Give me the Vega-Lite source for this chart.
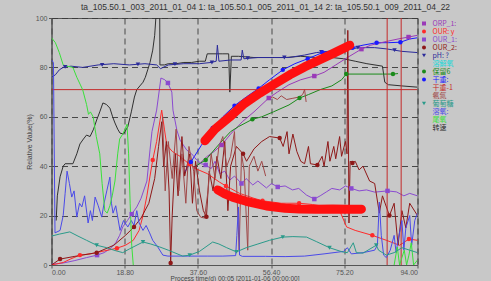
{
"$schema": "https://vega.github.io/schema/vega-lite/v6.json",
"autosize": "none",
"width": 366,
"height": 247,
"padding": {"left": 51.5, "top": 18, "right": 73.5, "bottom": 16},
"background": "#c8c8c8",
"title": {"text": "ta_105.50.1_003_2011_01_04  1: ta_105.50.1_005_2011_01_14  2: ta_105.50.1_009_2011_04_22", "font": "Liberation Sans", "fontSize": 8.5, "fontWeight": "normal", "color": "#333333", "anchor": "middle", "frame": "group", "dx": 31, "baseline": "bottom", "offset": -6},
"config": {
  "view": {"stroke": "#555555", "strokeWidth": 1},
  "axis": {"labelFont": "Liberation Sans", "labelFontSize": 7, "labelColor": "#555555", "tickColor": "#555555", "tickSize": 3, "domainColor": "#555555", "titleFont": "Liberation Sans", "titleFontSize": 7, "titleFontWeight": "normal", "titleColor": "#444444", "grid": true, "gridDash": [6, 4], "gridColor": "#3a3a3a", "gridOpacity": 0.9, "gridWidth": 1},
  "legend": {"orient": "right", "direction": "vertical", "offset": 1, "title": null, "labelFont": "Noto Sans CJK SC", "labelFontSize": 7, "symbolSize": 16, "rowPadding": 0, "labelOffset": 5, "padding": 2, "symbolStrokeWidth": 0, "labelColor": {"expr": "scale('color', datum.value)"}}
},
"resolve": {"legend": {"color": "independent", "shape": "independent"}},
"datasets": {
"lines": [
{"s":"转速","x":1.2,"y":18},{"s":"转速","x":1.5,"y":28},{"s":"转速","x":2.2,"y":35.7},{"s":"转速","x":3,"y":40},{"s":"转速","x":3.5,"y":41},{"s":"转速","x":4.5,"y":41},{"s":"转速","x":5.5,"y":41},{"s":"转速","x":6.5,"y":45},{"s":"转速","x":7.3,"y":49},{"s":"转速","x":8.2,"y":51},{"s":"转速","x":9,"y":52.6},{"s":"转速","x":9.9,"y":52},{"s":"转速","x":10.8,"y":55},{"s":"转速","x":11.6,"y":58.7},{"s":"转速","x":12.4,"y":62},{"s":"转速","x":13.2,"y":65.6},{"s":"转速","x":14.1,"y":65},{"s":"转速","x":15,"y":63.5},{"s":"转速","x":15.7,"y":60},{"s":"转速","x":16.3,"y":57.5},{"s":"转速","x":17,"y":55},{"s":"转速","x":17.6,"y":53.4},{"s":"转速","x":18.5,"y":53},{"s":"转速","x":19.6,"y":56},{"s":"转速","x":20.5,"y":62},{"s":"转速","x":21.3,"y":68},{"s":"转速","x":21.9,"y":71},{"s":"转速","x":22.7,"y":72.5},{"s":"转速","x":23.5,"y":74},{"s":"转速","x":24.1,"y":76},{"s":"转速","x":24.7,"y":79},{"s":"转速","x":25.3,"y":82},{"s":"转速","x":26,"y":87},{"s":"转速","x":26.5,"y":93},{"s":"转速","x":26.8,"y":100},{"s":"转速","x":27.8,"y":100},{"s":"转速","x":27.85,"y":81},{"s":"转速","x":29,"y":81},{"s":"转速","x":30,"y":81.5},{"s":"转速","x":32,"y":81.5},{"s":"转速","x":34,"y":82},{"s":"转速","x":36,"y":82},{"s":"转速","x":38,"y":82.5},{"s":"转速","x":39.5,"y":82.5},{"s":"转速","x":40,"y":85.5},{"s":"转速","x":42,"y":85.5},{"s":"转速","x":44,"y":85.5},{"s":"转速","x":45.5,"y":85.5},{"s":"转速","x":45.8,"y":70},{"s":"转速","x":46.2,"y":84.5},{"s":"转速","x":48,"y":84.5},{"s":"转速","x":52,"y":84},{"s":"转速","x":56,"y":84},{"s":"转速","x":60,"y":84},{"s":"转速","x":64,"y":84.5},{"s":"转速","x":68,"y":84},{"s":"转速","x":72,"y":84},{"s":"转速","x":75,"y":83.5},{"s":"转速","x":78,"y":82.5},{"s":"转速","x":81,"y":81.5},{"s":"转速","x":85,"y":80.5},{"s":"转速","x":85.6,"y":74},{"s":"转速","x":86.5,"y":73},{"s":"转速","x":90,"y":72.5},{"s":"转速","x":94,"y":72},
{"s":"pH: ?","x":0,"y":76},{"s":"pH: ?","x":1,"y":77},{"s":"pH: ?","x":2,"y":79},{"s":"pH: ?","x":3,"y":80},{"s":"pH: ?","x":5,"y":80.5},{"s":"pH: ?","x":8,"y":80},{"s":"pH: ?","x":12,"y":81},{"s":"pH: ?","x":16,"y":81.5},{"s":"pH: ?","x":20,"y":81},{"s":"pH: ?","x":24,"y":81.5},{"s":"pH: ?","x":27,"y":81},{"s":"pH: ?","x":28,"y":79.5},{"s":"pH: ?","x":30,"y":81},{"s":"pH: ?","x":34,"y":81.5},{"s":"pH: ?","x":38,"y":81.5},{"s":"pH: ?","x":41,"y":82},{"s":"pH: ?","x":42.3,"y":82.5},{"s":"pH: ?","x":42.6,"y":89},{"s":"pH: ?","x":43,"y":82.5},{"s":"pH: ?","x":46,"y":83},{"s":"pH: ?","x":48.7,"y":83},{"s":"pH: ?","x":49,"y":87},{"s":"pH: ?","x":49.4,"y":83.5},{"s":"pH: ?","x":53,"y":84},{"s":"pH: ?","x":57,"y":84},{"s":"pH: ?","x":61,"y":84},{"s":"pH: ?","x":65,"y":85},{"s":"pH: ?","x":68,"y":86},{"s":"pH: ?","x":71,"y":86.5},{"s":"pH: ?","x":75,"y":87},{"s":"pH: ?","x":79,"y":88},{"s":"pH: ?","x":83,"y":88},{"s":"pH: ?","x":86,"y":87.5},{"s":"pH: ?","x":90,"y":86.5},{"s":"pH: ?","x":94,"y":86},
{"s":"干重:","x":34,"y":37},{"s":"干重:","x":35.8,"y":41.7},{"s":"干重:","x":38.5,"y":48.5},{"s":"干重:","x":41.4,"y":55.5},{"s":"干重:","x":44,"y":60},{"s":"干重:","x":47,"y":64.5},{"s":"干重:","x":50,"y":68},{"s":"干重:","x":53.2,"y":71.5},{"s":"干重:","x":56,"y":75},{"s":"干重:","x":59.4,"y":79},{"s":"干重:","x":62.5,"y":81.5},{"s":"干重:","x":65.8,"y":83.5},{"s":"干重:","x":69.6,"y":86},{"s":"干重:","x":73,"y":87},{"s":"干重:","x":77.3,"y":88},{"s":"干重:","x":80,"y":89},{"s":"干重:","x":83.5,"y":90},{"s":"干重:","x":86.5,"y":90},{"s":"干重:","x":89.6,"y":90.2},{"s":"干重:","x":92,"y":91.5},{"s":"干重:","x":94,"y":92},
{"s":"ORP_1:","x":36.5,"y":39},{"s":"ORP_1:","x":38,"y":41},{"s":"ORP_1:","x":40,"y":44},{"s":"ORP_1:","x":41.8,"y":46},{"s":"ORP_1:","x":43.7,"y":48.6},{"s":"ORP_1:","x":46,"y":53},{"s":"ORP_1:","x":49,"y":58},{"s":"ORP_1:","x":52,"y":62},{"s":"ORP_1:","x":55.8,"y":67.6},{"s":"ORP_1:","x":58,"y":70},{"s":"ORP_1:","x":61,"y":73},{"s":"ORP_1:","x":64,"y":75},{"s":"ORP_1:","x":67.5,"y":76.5},{"s":"ORP_1:","x":70,"y":78},{"s":"ORP_1:","x":73,"y":81},{"s":"ORP_1:","x":76,"y":84},{"s":"ORP_1:","x":79.6,"y":87.4},{"s":"ORP_1:","x":82,"y":89},{"s":"ORP_1:","x":86,"y":90.5},{"s":"ORP_1:","x":89,"y":91.5},{"s":"ORP_1:","x":91.7,"y":92.3},{"s":"ORP_1:","x":94,"y":93},
{"s":"保留6","x":37,"y":40},{"s":"保留6","x":39.6,"y":42.5},{"s":"保留6","x":42,"y":47},{"s":"保留6","x":44,"y":50.6},{"s":"保留6","x":46,"y":54},{"s":"保留6","x":48,"y":56},{"s":"保留6","x":51.6,"y":59},{"s":"保留6","x":54,"y":60},{"s":"保留6","x":57,"y":62},{"s":"保留6","x":61,"y":64.8},{"s":"保留6","x":63.7,"y":67.6},{"s":"保留6","x":66,"y":69},{"s":"保留6","x":69,"y":71},{"s":"保留6","x":72,"y":72.5},{"s":"保留6","x":74.5,"y":75},{"s":"保留6","x":75.7,"y":77.3},{"s":"保留6","x":80,"y":77.3},{"s":"保留6","x":85,"y":77.3},{"s":"保留6","x":87.7,"y":77.3},{"s":"保留6","x":89,"y":77.5},
{"s":"OUR_1:","x":0,"y":0.3},{"s":"OUR_1:","x":3,"y":0.8},{"s":"OUR_1:","x":6,"y":1.8},{"s":"OUR_1:","x":9,"y":3},{"s":"OUR_1:","x":11.7,"y":4},{"s":"OUR_1:","x":13.5,"y":5},{"s":"OUR_1:","x":15,"y":6.5},{"s":"OUR_1:","x":16.5,"y":9},{"s":"OUR_1:","x":17.5,"y":12},{"s":"OUR_1:","x":18.3,"y":15.4},{"s":"OUR_1:","x":19.5,"y":18},{"s":"OUR_1:","x":20.6,"y":20.6},{"s":"OUR_1:","x":21.9,"y":23.5},{"s":"OUR_1:","x":23,"y":27},{"s":"OUR_1:","x":24.5,"y":34},{"s":"OUR_1:","x":25.3,"y":46.6},{"s":"OUR_1:","x":25.8,"y":54},{"s":"OUR_1:","x":27,"y":62.7},{"s":"OUR_1:","x":28.1,"y":75.7},{"s":"OUR_1:","x":29.1,"y":75},{"s":"OUR_1:","x":29.9,"y":73.7},{"s":"OUR_1:","x":30.9,"y":70},{"s":"OUR_1:","x":31.2,"y":62.7},{"s":"OUR_1:","x":32.2,"y":54.6},{"s":"OUR_1:","x":33,"y":50.6},{"s":"OUR_1:","x":34.7,"y":46.6},{"s":"OUR_1:","x":36,"y":45},{"s":"OUR_1:","x":37.3,"y":42.5},{"s":"OUR_1:","x":38.5,"y":41},{"s":"OUR_1:","x":39.6,"y":40.5},{"s":"OUR_1:","x":41,"y":39},{"s":"OUR_1:","x":42,"y":42},{"s":"OUR_1:","x":43.2,"y":37},{"s":"OUR_1:","x":44.5,"y":38},{"s":"OUR_1:","x":45.8,"y":34.4},{"s":"OUR_1:","x":47,"y":36},{"s":"OUR_1:","x":48.8,"y":33},{"s":"OUR_1:","x":50,"y":35},{"s":"OUR_1:","x":51.7,"y":32.4},{"s":"OUR_1:","x":53,"y":34},{"s":"OUR_1:","x":55.2,"y":31.2},{"s":"OUR_1:","x":56.5,"y":33},{"s":"OUR_1:","x":58.1,"y":31.6},{"s":"OUR_1:","x":60,"y":32},{"s":"OUR_1:","x":61.9,"y":30.4},{"s":"OUR_1:","x":63.5,"y":31},{"s":"OUR_1:","x":65.5,"y":28.3},{"s":"OUR_1:","x":67.5,"y":26.7},{"s":"OUR_1:","x":69,"y":28},{"s":"OUR_1:","x":70.6,"y":29.6},{"s":"OUR_1:","x":72,"y":31},{"s":"OUR_1:","x":74,"y":30.4},{"s":"OUR_1:","x":75.5,"y":32},{"s":"OUR_1:","x":77,"y":31},{"s":"OUR_1:","x":79,"y":30},{"s":"OUR_1:","x":80.9,"y":30.4},{"s":"OUR_1:","x":83,"y":29.5},{"s":"OUR_1:","x":86.3,"y":30},{"s":"OUR_1:","x":88.6,"y":29.6},{"s":"OUR_1:","x":90.5,"y":28},{"s":"OUR_1:","x":92,"y":29},{"s":"OUR_1:","x":94,"y":28},
{"s":"OUR: y","x":0,"y":0},{"s":"OUR: y","x":3,"y":1},{"s":"OUR: y","x":5,"y":2.5},{"s":"OUR: y","x":7.3,"y":4},{"s":"OUR: y","x":10,"y":4.5},{"s":"OUR: y","x":13,"y":5.5},{"s":"OUR: y","x":16.8,"y":6.8},{"s":"OUR: y","x":19,"y":8},{"s":"OUR: y","x":21,"y":10},{"s":"OUR: y","x":22.5,"y":14},{"s":"OUR: y","x":23.5,"y":20},{"s":"OUR: y","x":24.5,"y":28},{"s":"OUR: y","x":25.3,"y":36},{"s":"OUR: y","x":26,"y":42.5},{"s":"OUR: y","x":27,"y":50},{"s":"OUR: y","x":28.3,"y":62.7},{"s":"OUR: y","x":29,"y":55},{"s":"OUR: y","x":29.6,"y":48.6},{"s":"OUR: y","x":31,"y":46},{"s":"OUR: y","x":33,"y":44},{"s":"OUR: y","x":35.4,"y":40.8},{"s":"OUR: y","x":37,"y":39},{"s":"OUR: y","x":40,"y":37},{"s":"OUR: y","x":43.2,"y":33.5},{"s":"OUR: y","x":44.8,"y":32},{"s":"OUR: y","x":46,"y":31},{"s":"OUR: y","x":48.3,"y":29},{"s":"OUR: y","x":52,"y":27},{"s":"OUR: y","x":54.2,"y":26},{"s":"OUR: y","x":59,"y":25},{"s":"OUR: y","x":63.6,"y":25},{"s":"OUR: y","x":67,"y":24.5},{"s":"OUR: y","x":73,"y":23},{"s":"OUR: y","x":74,"y":22},{"s":"OUR: y","x":75.8,"y":15.4},{"s":"OUR: y","x":78,"y":14},{"s":"OUR: y","x":82.4,"y":12},{"s":"OUR: y","x":86,"y":10},{"s":"OUR: y","x":89.4,"y":8},{"s":"OUR: y","x":91.8,"y":10.5},{"s":"OUR: y","x":94,"y":10},
{"s":"OUR_2:","x":0,"y":0},{"s":"OUR_2:","x":2.2,"y":2.4},{"s":"OUR_2:","x":6,"y":3.5},{"s":"OUR_2:","x":11.6,"y":5},{"s":"OUR_2:","x":16,"y":8},{"s":"OUR_2:","x":19,"y":12},{"s":"OUR_2:","x":21.2,"y":15.4},{"s":"OUR_2:","x":23,"y":19},{"s":"OUR_2:","x":25,"y":25},{"s":"OUR_2:","x":26.5,"y":35},{"s":"OUR_2:","x":27.5,"y":48},{"s":"OUR_2:","x":28.3,"y":58},{"s":"OUR_2:","x":28.8,"y":40},{"s":"OUR_2:","x":29.5,"y":50},{"s":"OUR_2:","x":30.2,"y":30},{"s":"OUR_2:","x":30.6,"y":0.8},{"s":"OUR_2:","x":31,"y":20},{"s":"OUR_2:","x":31.8,"y":45},{"s":"OUR_2:","x":32.5,"y":28},{"s":"OUR_2:","x":33.5,"y":52},{"s":"OUR_2:","x":34.2,"y":36},{"s":"OUR_2:","x":35.5,"y":45},{"s":"OUR_2:","x":36.2,"y":25},{"s":"OUR_2:","x":37,"y":42},{"s":"OUR_2:","x":38,"y":30},{"s":"OUR_2:","x":39,"y":22},{"s":"OUR_2:","x":39.8,"y":19.5},{"s":"OUR_2:","x":40.5,"y":38},{"s":"OUR_2:","x":41.5,"y":30},{"s":"OUR_2:","x":42.5,"y":44},{"s":"OUR_2:","x":43.5,"y":35},{"s":"OUR_2:","x":44.5,"y":50},{"s":"OUR_2:","x":45.3,"y":22},{"s":"OUR_2:","x":46,"y":40},{"s":"OUR_2:","x":47.5,"y":48},{"s":"OUR_2:","x":49.2,"y":45},{"s":"OUR_2:","x":50.1,"y":42},{"s":"OUR_2:","x":52,"y":47},{"s":"OUR_2:","x":54,"y":50},{"s":"OUR_2:","x":56,"y":52},{"s":"OUR_2:","x":58.6,"y":51.4},{"s":"OUR_2:","x":59.5,"y":48},{"s":"OUR_2:","x":60.5,"y":54},{"s":"OUR_2:","x":61,"y":45},{"s":"OUR_2:","x":62,"y":53},{"s":"OUR_2:","x":63,"y":46},{"s":"OUR_2:","x":64,"y":42},{"s":"OUR_2:","x":65,"y":41},{"s":"OUR_2:","x":66,"y":48},{"s":"OUR_2:","x":66.5,"y":41},{"s":"OUR_2:","x":68.3,"y":40.5},{"s":"OUR_2:","x":69.5,"y":44},{"s":"OUR_2:","x":70,"y":40},{"s":"OUR_2:","x":71,"y":50},{"s":"OUR_2:","x":71.5,"y":42},{"s":"OUR_2:","x":72.5,"y":48},{"s":"OUR_2:","x":73,"y":43},{"s":"OUR_2:","x":74,"y":52},{"s":"OUR_2:","x":74.5,"y":44},{"s":"OUR_2:","x":75.5,"y":50},{"s":"OUR_2:","x":75.9,"y":45},{"s":"OUR_2:","x":76.1,"y":95},{"s":"OUR_2:","x":76.4,"y":17},{"s":"OUR_2:","x":76.7,"y":42},{"s":"OUR_2:","x":77.3,"y":41.3},{"s":"OUR_2:","x":78,"y":42},{"s":"OUR_2:","x":79,"y":38.5},{"s":"OUR_2:","x":80,"y":40},{"s":"OUR_2:","x":81.7,"y":34},{"s":"OUR_2:","x":83,"y":33},{"s":"OUR_2:","x":84.2,"y":21},{"s":"OUR_2:","x":85,"y":28},{"s":"OUR_2:","x":86.8,"y":20},{"s":"OUR_2:","x":88,"y":25},{"s":"OUR_2:","x":89,"y":8},{"s":"OUR_2:","x":90,"y":22},{"s":"OUR_2:","x":91,"y":15},{"s":"OUR_2:","x":92,"y":25},{"s":"OUR_2:","x":94,"y":20},
{"s":"氨氮","g":"a","x":28.5,"y":60},{"s":"氨氮","g":"a","x":29.2,"y":30},{"s":"氨氮","g":"a","x":30,"y":50},{"s":"氨氮","g":"a","x":31,"y":35},{"s":"氨氮","g":"a","x":32,"y":55},{"s":"氨氮","g":"a","x":32.7,"y":30},{"s":"氨氮","g":"a","x":33.5,"y":45},{"s":"氨氮","g":"a","x":34.5,"y":25},{"s":"氨氮","g":"a","x":35.3,"y":48},{"s":"氨氮","g":"a","x":36.5,"y":38},{"s":"氨氮","g":"a","x":37.3,"y":22},{"s":"氨氮","g":"a","x":38.3,"y":19.4},{"s":"氨氮","g":"a","x":39.3,"y":19},{"s":"氨氮","g":"a","x":40.2,"y":30},{"s":"氨氮","g":"a","x":41,"y":45},{"s":"氨氮","g":"a","x":42,"y":35},{"s":"氨氮","g":"a","x":43,"y":48},{"s":"氨氮","g":"a","x":44,"y":52},{"s":"氨氮","g":"a","x":45,"y":40},{"s":"氨氮","g":"a","x":46,"y":44},{"s":"氨氮","g":"a","x":47,"y":54},{"s":"氨氮","g":"a","x":47.6,"y":30},{"s":"氨氮","g":"a","x":48.2,"y":6},{"s":"氨氮","g":"a","x":48.8,"y":45},{"s":"氨氮","g":"a","x":49.5,"y":38},{"s":"氨氮","g":"a","x":50.4,"y":6},{"s":"氨氮","g":"a","x":50.8,"y":40},{"s":"氨氮","g":"a","x":52,"y":44},{"s":"氨氮","g":"a","x":53,"y":38},{"s":"氨氮","g":"a","x":54,"y":42},{"s":"氨氮","g":"a","x":55,"y":36},
{"s":"氨氮","g":"b","x":55.8,"y":67.6},{"s":"氨氮","g":"b","x":56.8,"y":68},{"s":"氨氮","g":"b","x":58,"y":67},{"s":"氨氮","g":"b","x":59,"y":68.5},{"s":"氨氮","g":"b","x":60.4,"y":67},{"s":"氨氮","g":"b","x":62,"y":67.5},{"s":"氨氮","g":"b","x":63.6,"y":68},{"s":"氨氮","g":"b","x":64.5,"y":69},{"s":"氨氮","g":"b","x":65,"y":71},{"s":"氨氮","g":"b","x":65.4,"y":66},
{"s":"干重-1","g":"h","x":0,"y":71},{"s":"干重-1","g":"h","x":94,"y":71},{"s":"干重-1","g":"v1","x":86.2,"y":0},{"s":"干重-1","g":"v1","x":86.21,"y":100},{"s":"干重-1","g":"v2","x":89.8,"y":0},{"s":"干重-1","g":"v2","x":89.81,"y":100},
{"s":"溶氧:","x":0,"y":83},{"s":"溶氧:","x":0.5,"y":82},{"s":"溶氧:","x":0.9,"y":13},{"s":"溶氧:","x":2.2,"y":14},{"s":"溶氧:","x":3,"y":20},{"s":"溶氧:","x":3.5,"y":29},{"s":"溶氧:","x":4,"y":38},{"s":"溶氧:","x":4.6,"y":33},{"s":"溶氧:","x":5.2,"y":27.5},{"s":"溶氧:","x":5.8,"y":30},{"s":"溶氧:","x":6.5,"y":19.4},{"s":"溶氧:","x":7.2,"y":25},{"s":"溶氧:","x":7.8,"y":23.5},{"s":"溶氧:","x":8.5,"y":28},{"s":"溶氧:","x":9.4,"y":17},{"s":"溶氧:","x":10,"y":22},{"s":"溶氧:","x":10.5,"y":18},{"s":"溶氧:","x":11.2,"y":27.5},{"s":"溶氧:","x":12,"y":24},{"s":"溶氧:","x":12.9,"y":19.4},{"s":"溶氧:","x":13.5,"y":25},{"s":"溶氧:","x":14.2,"y":30},{"s":"溶氧:","x":15,"y":35.6},{"s":"溶氧:","x":15.4,"y":25},{"s":"溶氧:","x":15.8,"y":21},{"s":"溶氧:","x":16.5,"y":24},{"s":"溶氧:","x":17.6,"y":14},{"s":"溶氧:","x":18.5,"y":18},{"s":"溶氧:","x":19.6,"y":15.4},{"s":"溶氧:","x":20.5,"y":18},{"s":"溶氧:","x":21.2,"y":16},{"s":"溶氧:","x":21.9,"y":22},{"s":"溶氧:","x":22.5,"y":17},{"s":"溶氧:","x":23.5,"y":14},{"s":"溶氧:","x":24.3,"y":16},{"s":"溶氧:","x":25.2,"y":13},{"s":"溶氧:","x":26,"y":10},{"s":"溶氧:","x":27.3,"y":7.3},{"s":"溶氧:","x":28.6,"y":4},{"s":"溶氧:","x":29.9,"y":3.6},{"s":"溶氧:","x":35,"y":3.6},{"s":"溶氧:","x":40,"y":3.6},{"s":"溶氧:","x":44,"y":3.6},{"s":"溶氧:","x":47.3,"y":3.8},{"s":"溶氧:","x":47.6,"y":12},{"s":"溶氧:","x":48,"y":23.5},{"s":"溶氧:","x":48.3,"y":4},{"s":"溶氧:","x":49,"y":3.5},{"s":"溶氧:","x":55,"y":3.5},{"s":"溶氧:","x":60,"y":3.4},{"s":"溶氧:","x":65,"y":3.6},{"s":"溶氧:","x":70,"y":4.5},{"s":"溶氧:","x":75,"y":5.5},{"s":"溶氧:","x":76,"y":7},{"s":"溶氧:","x":77,"y":4.5},{"s":"溶氧:","x":80,"y":5},{"s":"溶氧:","x":83,"y":6},{"s":"溶氧:","x":83.7,"y":8},{"s":"溶氧:","x":84.2,"y":25.5},{"s":"溶氧:","x":84.7,"y":12},{"s":"溶氧:","x":85.3,"y":4},{"s":"溶氧:","x":86,"y":3},{"s":"溶氧:","x":87,"y":6},{"s":"溶氧:","x":88,"y":12},{"s":"溶氧:","x":88.5,"y":5},{"s":"溶氧:","x":89,"y":10},{"s":"溶氧:","x":90,"y":18},{"s":"溶氧:","x":90.5,"y":6},{"s":"溶氧:","x":91,"y":15},{"s":"溶氧:","x":92,"y":20},{"s":"溶氧:","x":92.5,"y":8},{"s":"溶氧:","x":93.3,"y":18},{"s":"溶氧:","x":94,"y":21},
{"s":"尾氧","g":"a","x":0,"y":92},{"s":"尾氧","g":"a","x":1,"y":90},{"s":"尾氧","g":"a","x":2,"y":86},{"s":"尾氧","g":"a","x":3,"y":81},{"s":"尾氧","g":"a","x":4,"y":80.5},{"s":"尾氧","g":"a","x":5.5,"y":80},{"s":"尾氧","g":"a","x":6.5,"y":76},{"s":"尾氧","g":"a","x":8,"y":71},{"s":"尾氧","g":"a","x":9,"y":65},{"s":"尾氧","g":"a","x":9.5,"y":61},{"s":"尾氧","g":"a","x":10,"y":62},{"s":"尾氧","g":"a","x":10.7,"y":60},{"s":"尾氧","g":"a","x":11.5,"y":52},{"s":"尾氧","g":"a","x":12.4,"y":45},{"s":"尾氧","g":"a","x":13,"y":33},{"s":"尾氧","g":"a","x":13.7,"y":22},{"s":"尾氧","g":"a","x":14.3,"y":21},{"s":"尾氧","g":"a","x":15,"y":24},{"s":"尾氧","g":"a","x":15.6,"y":28},{"s":"尾氧","g":"a","x":16.3,"y":34},{"s":"尾氧","g":"a","x":17,"y":45},{"s":"尾氧","g":"a","x":17.5,"y":51},{"s":"尾氧","g":"a","x":18.3,"y":53},{"s":"尾氧","g":"a","x":18.9,"y":55},{"s":"尾氧","g":"a","x":19.4,"y":57},{"s":"尾氧","g":"a","x":19.8,"y":45},{"s":"尾氧","g":"a","x":20.2,"y":25},{"s":"尾氧","g":"a","x":20.6,"y":8},{"s":"尾氧","g":"a","x":21,"y":0},
{"s":"尾氧","g":"b","x":88,"y":0},{"s":"尾氧","g":"b","x":88.8,"y":7.3},{"s":"尾氧","g":"b","x":89.4,"y":0},{"s":"尾氧","g":"b","x":90,"y":3},{"s":"尾氧","g":"b","x":90.6,"y":6},{"s":"尾氧","g":"b","x":91.2,"y":0},{"s":"尾氧","g":"b","x":91.8,"y":4},{"s":"尾氧","g":"b","x":92.4,"y":9},{"s":"尾氧","g":"b","x":93,"y":0},{"s":"尾氧","g":"b","x":94,"y":2},
{"s":"葡萄糖","x":0,"y":11.7},{"s":"葡萄糖","x":2,"y":12.5},{"s":"葡萄糖","x":4.7,"y":13.4},{"s":"葡萄糖","x":6.8,"y":11.7},{"s":"葡萄糖","x":9,"y":10},{"s":"葡萄糖","x":11.6,"y":8},{"s":"葡萄糖","x":14.2,"y":7},{"s":"葡萄糖","x":16,"y":6},{"s":"葡萄糖","x":18.3,"y":5},{"s":"葡萄糖","x":20,"y":6.5},{"s":"葡萄糖","x":23.5,"y":9.3},{"s":"葡萄糖","x":25.5,"y":8.5},{"s":"葡萄糖","x":27.8,"y":7.3},{"s":"葡萄糖","x":30,"y":6},{"s":"葡萄糖","x":33.7,"y":3.6},{"s":"葡萄糖","x":35.5,"y":4},{"s":"葡萄糖","x":38,"y":5.5},{"s":"葡萄糖","x":41.4,"y":9.3},{"s":"葡萄糖","x":43,"y":8.5},{"s":"葡萄糖","x":45,"y":7},{"s":"葡萄糖","x":47.5,"y":5.3},{"s":"葡萄糖","x":50,"y":7},{"s":"葡萄糖","x":53,"y":8.5},{"s":"葡萄糖","x":56,"y":10},{"s":"葡萄糖","x":59.4,"y":11.3},{"s":"葡萄糖","x":62,"y":11.5},{"s":"葡萄糖","x":65.5,"y":11.3},{"s":"葡萄糖","x":68,"y":9.5},{"s":"葡萄糖","x":71.4,"y":7},{"s":"葡萄糖","x":74.7,"y":5.3},{"s":"葡萄糖","x":76,"y":5},{"s":"葡萄糖","x":77.5,"y":9},{"s":"葡萄糖","x":78.3,"y":5},{"s":"葡萄糖","x":80,"y":4.8},{"s":"葡萄糖","x":83.4,"y":8},{"s":"葡萄糖","x":84,"y":6},{"s":"葡萄糖","x":86,"y":4},{"s":"葡萄糖","x":88,"y":5},{"s":"葡萄糖","x":90,"y":7},{"s":"葡萄糖","x":92,"y":6},{"s":"葡萄糖","x":94,"y":5}
],
"marks": [
{"s":"ORP_1:","x":43.7,"y":48.6},{"s":"ORP_1:","x":55.8,"y":67.6},{"s":"ORP_1:","x":67.5,"y":76.5},{"s":"ORP_1:","x":79.6,"y":87.4},{"s":"ORP_1:","x":91.7,"y":92.3},
{"s":"OUR_1:","x":11.7,"y":4},{"s":"OUR_1:","x":20.6,"y":20.6},{"s":"OUR_1:","x":29.9,"y":73.7},{"s":"OUR_1:","x":39.6,"y":40.5},{"s":"OUR_1:","x":48.8,"y":33},{"s":"OUR_1:","x":58.1,"y":31.6},{"s":"OUR_1:","x":67.5,"y":26.7},{"s":"OUR_1:","x":77,"y":31},{"s":"OUR_1:","x":86.3,"y":30},
{"s":"OUR: y","x":7.3,"y":4},{"s":"OUR: y","x":16.8,"y":6.8},{"s":"OUR: y","x":26,"y":42.5},{"s":"OUR: y","x":35.4,"y":40.8},{"s":"OUR: y","x":44.8,"y":32},{"s":"OUR: y","x":54.2,"y":26},{"s":"OUR: y","x":63.6,"y":25},{"s":"OUR: y","x":73,"y":23},{"s":"OUR: y","x":82.4,"y":12},{"s":"OUR: y","x":91.8,"y":10.5},
{"s":"OUR_2:","x":2.2,"y":2.4},{"s":"OUR_2:","x":11.6,"y":5},{"s":"OUR_2:","x":21.2,"y":15.4},{"s":"OUR_2:","x":30.6,"y":0.8},{"s":"OUR_2:","x":39.8,"y":19.5},{"s":"OUR_2:","x":49.2,"y":45},{"s":"OUR_2:","x":58.6,"y":51.4},{"s":"OUR_2:","x":68.3,"y":40.5},{"s":"OUR_2:","x":77.3,"y":41.3},{"s":"OUR_2:","x":86.8,"y":20},
{"s":"pH: ?","x":3.5,"y":80.2},{"s":"pH: ?","x":13,"y":81},{"s":"pH: ?","x":22.2,"y":81.2},{"s":"pH: ?","x":31.7,"y":81.3},{"s":"pH: ?","x":41.2,"y":82},{"s":"pH: ?","x":50.4,"y":83.7},{"s":"pH: ?","x":59.8,"y":84},{"s":"pH: ?","x":69.3,"y":86.3},{"s":"pH: ?","x":78.7,"y":88},{"s":"pH: ?","x":88.1,"y":87},
{"s":"保留6","x":39.6,"y":42.5},{"s":"保留6","x":51.6,"y":59},{"s":"保留6","x":63.7,"y":67.6},{"s":"保留6","x":75.7,"y":77.3},{"s":"保留6","x":87.7,"y":77.3},
{"s":"干重:","x":35.8,"y":41.7},{"s":"干重:","x":41.4,"y":55.5},{"s":"干重:","x":47,"y":64.5},{"s":"干重:","x":53.2,"y":71.5},{"s":"干重:","x":59.4,"y":79},{"s":"干重:","x":65.8,"y":83.5},{"s":"干重:","x":69.6,"y":86},{"s":"干重:","x":77.3,"y":88},{"s":"干重:","x":83.5,"y":90},{"s":"干重:","x":89.6,"y":90.2},
{"s":"葡萄糖","x":11.6,"y":8},{"s":"葡萄糖","x":23.5,"y":9.3},{"s":"葡萄糖","x":35.5,"y":4},{"s":"葡萄糖","x":47.5,"y":5.3},{"s":"葡萄糖","x":59.4,"y":11.3},{"s":"葡萄糖","x":71.4,"y":7},{"s":"葡萄糖","x":83.4,"y":8}
],
"anno": [
{"g":"arc","x":39.4,"y":50.3},{"g":"arc","x":42,"y":55},{"g":"arc","x":45.8,"y":60},{"g":"arc","x":49.5,"y":65.3},{"g":"arc","x":53.5,"y":69.6},{"g":"arc","x":57.5,"y":73.5},{"g":"arc","x":61.2,"y":77},{"g":"arc","x":65,"y":80.2},{"g":"arc","x":68.8,"y":83},{"g":"arc","x":72.5,"y":85.8},{"g":"arc","x":75.8,"y":88.3},{"g":"arc","x":76.6,"y":89},
{"g":"flat","x":42.7,"y":30.4},{"g":"flat","x":44.5,"y":28.8},{"g":"flat","x":46.5,"y":27.5},{"g":"flat","x":50,"y":25.8},{"g":"flat","x":55.2,"y":23.9},{"g":"flat","x":60,"y":23},{"g":"flat","x":63.7,"y":22.7},{"g":"flat","x":68,"y":22.6},{"g":"flat","x":72.2,"y":22.7},{"g":"flat","x":76,"y":22.6},{"g":"flat","x":79.6,"y":22.6}
]
},
"encoding": {
  "x": {"field": "x", "type": "quantitative", "scale": {"domain": [0, 94], "nice": false, "zero": false}, "axis": {"values": [0, 18.8, 37.6, 56.4, 75.2, 94], "format": ".2f", "title": "Process time(d) 00:05 [2011-01-06 00:00:00]", "titleFontSize": 6.5, "labelPadding": 0.5, "titlePadding": 0, "titleBaseline": "top"}},
  "y": {"field": "y", "type": "quantitative", "scale": {"domain": [0, 100], "nice": false}, "axis": {"values": [0, 20, 40, 60, 80, 100], "title": "Relative Value(%)", "labelPadding": 1.5, "titlePadding": 3}}
},
"layer": [
  {"data": {"name": "lines"}, "mark": {"type": "line", "strokeWidth": 1, "clip": true},
   "encoding": {
     "color": {"field": "s", "type": "nominal", "scale": {"domain": ["ORP_1:", "OUR: y", "OUR_1:", "OUR_2:", "pH: ?", "溶解氧", "保留6", "干重:", "干重-1", "氨氮", "葡萄糖", "溶氧:", "尾氧", "转速"], "range": ["#9a3ab8", "#ff2a2a", "#8a4ad0", "#8e1818", "#2a2a9a", "#20d8d8", "#1a8a1a", "#1a1aff", "#c42a2a", "#a04848", "#2a9a8a", "#4a4ae8", "#3ae03a", "#303030"]}, "legend": null},
     "detail": {"field": "g"}
   }},
  {"data": {"name": "marks"}, "mark": {"type": "point", "filled": true, "size": 20, "opacity": 1},
   "encoding": {
     "color": {"field": "s", "type": "nominal", "legend": {"labelColor": {"expr": "scale('color', datum.value)"}}},
     "shape": {"field": "s", "type": "nominal", "scale": {"domain": ["ORP_1:", "OUR: y", "OUR_1:", "OUR_2:", "pH: ?", "溶解氧", "保留6", "干重:", "干重-1", "氨氮", "葡萄糖", "溶氧:", "尾氧", "转速"], "range": ["square", "circle", "square", "circle", "triangle-down", "M0,0L0.01,0L0,0.01Z", "circle", "circle", "M0,0L0.01,0L0,0.01Z", "M0,0L0.01,0L0,0.01Z", "triangle-down", "M0,0L0.01,0L0,0.01Z", "M0,0L0.01,0L0,0.01Z", "M0,0L0.01,0L0,0.01Z"]}, "legend": {"labelColor": {"expr": "scale('color', datum.value)"}}}
   }},
  {"data": {"name": "anno"}, "mark": {"type": "line", "color": "#ff1010", "strokeWidth": 9, "strokeCap": "round", "strokeJoin": "round", "clip": true},
   "encoding": {"detail": {"field": "g"}}}
]
}
